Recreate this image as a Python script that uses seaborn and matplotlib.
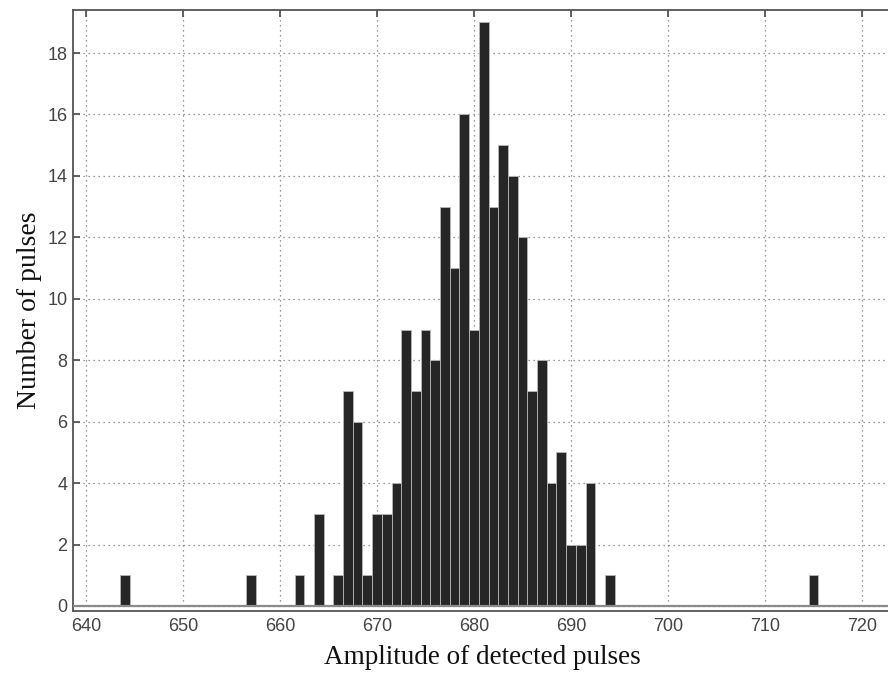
import numpy as np
import pandas as pd
import seaborn as sns
import matplotlib
matplotlib.use("Agg")
import matplotlib.pyplot as plt
from matplotlib import font_manager

# Data (bin centre -> number of pulses)
amplitudes = [644, 657, 662, 664, 666, 667, 668, 669, 670, 671, 672, 673, 674,
              675, 676, 677, 678, 679, 680, 681, 682, 683, 684, 685, 686, 687,
              688, 689, 690, 691, 692, 694, 715]
counts = [1, 1, 1, 3, 1, 7, 6, 1, 3, 3, 4, 9, 7,
          9, 8, 13, 11, 16, 9, 19, 13, 15, 14, 12, 7, 8,
          4, 5, 2, 2, 4, 1, 1]
x_ticks = [640, 650, 660, 670, 680, 690, 700, 710, 720]
y_ticks = [0, 2, 4, 6, 8, 10, 12, 14, 16, 18]
x_label = "Amplitude of detected pulses"
y_label = "Number of pulses"

df = pd.DataFrame({"amplitude": amplitudes, "count": counts})

sns.set_style("white")
names = {f.name for f in font_manager.fontManager.ttflist}
tick_family = "Liberation Sans Narrow" if "Liberation Sans Narrow" in names else "Liberation Sans"
plt.rcParams["font.family"] = [tick_family, "DejaVu Sans"]

W, H = 888, 673
fig = plt.figure(figsize=(W / 100, H / 100), dpi=100)
left, right, top, bottom = 73, 892, 10, 611
ax = fig.add_axes([left / W, 1 - bottom / H, (right - left) / W, (bottom - top) / H])

sns.histplot(data=df, x="amplitude", weights="count", discrete=True,
             color="#262626", edgecolor="#b8b8b8", linewidth=0.6,
             alpha=1.0, ax=ax, zorder=3)

px_per_unit_x = (862 - 86) / 80.0
xl = 640 + (left - 86) / px_per_unit_x
xr = 640 + (right - 86) / px_per_unit_x
ax.set_xlim(xl, xr)
py = (606 - 53) / 18.0
ax.set_ylim(-(bottom - 606) / py, (606 - top) / py)

# zero baseline like MATLAB's hist
ax.axhline(0, color="#8a8a8a", lw=1.6, zorder=4)

ax.set_xticks(x_ticks)
ax.set_yticks(y_ticks)
ax.grid(True, which="major", linestyle=(0, (1, 3)), color="#777777", lw=0.9, zorder=0)
ax.set_axisbelow(True)

for s in ax.spines.values():
    s.set_color("#555555")
    s.set_linewidth(1.3)

ax.tick_params(axis="both", direction="in", length=5, width=1.3, color="#555555",
               labelsize=13, labelcolor="#444444")
ax.tick_params(axis="x", top=True, pad=5)
ax.tick_params(axis="y", left=True, right=False, pad=4)

ax.set_xlabel(x_label, family=["Liberation Serif", "DejaVu Serif"], fontsize=19.5,
              color="#111111", labelpad=7)
ax.set_ylabel(y_label, family=["Liberation Serif", "DejaVu Serif"], fontsize=20,
              color="#111111", labelpad=4)

fig.savefig("out.png", dpi=100)
